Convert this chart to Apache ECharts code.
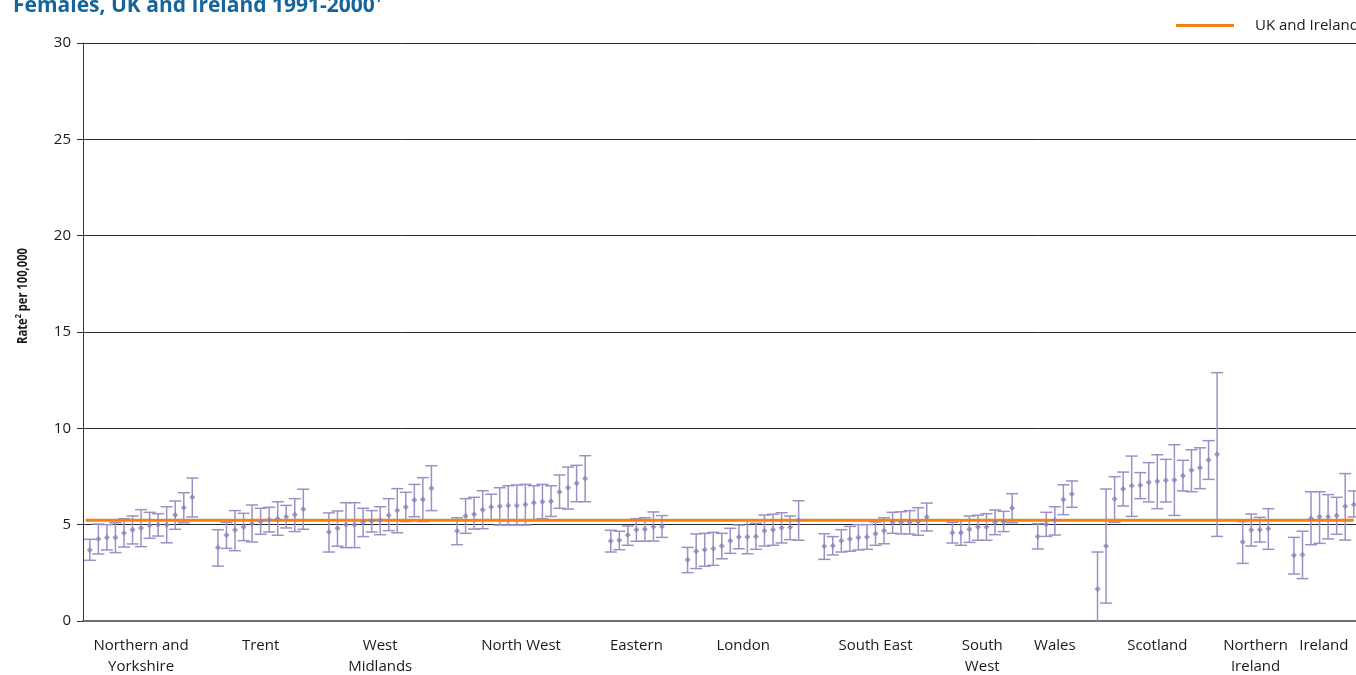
<!DOCTYPE html>
<html>
<head>
<meta charset="utf-8">
<script src="https://cdn.jsdelivr.net/npm/echarts@6/dist/echarts.min.js"></script>
<style>
  html, body { margin: 0; padding: 0; background: #ffffff; }
  #chart { width: 1356px; height: 675px; }
</style>
</head>
<body>
<div id="chart"></div>
<script>
// Cancer registry regions, in plotting order
const REGIONS = [
  'Northern and\nYorkshire', 'Trent', 'West\nMidlands', 'North West', 'Eastern', 'London',
  'South East', 'South\nWest', 'Wales', 'Scotland', 'Northern\nIreland', 'Ireland'
];

// Age-standardised rate per 100,000 for each area within a region
const RATE = [
  [3.69, 4.26, 4.33, 4.33, 4.57, 4.74, 4.83, 4.97, 5.00, 5.00, 5.50, 5.88, 6.42],
  [3.81, 4.46, 4.72, 4.88, 5.05, 5.17, 5.26, 5.31, 5.41, 5.52, 5.80],
  [4.62, 4.81, 5.00, 5.00, 5.14, 5.19, 5.23, 5.49, 5.73, 5.92, 6.28, 6.30, 6.89],
  [4.67, 5.45, 5.54, 5.78, 5.92, 5.95, 6.00, 6.00, 6.05, 6.14, 6.19, 6.21, 6.70, 6.92, 7.15, 7.39],
  [4.15, 4.19, 4.46, 4.74, 4.76, 4.89, 4.91],
  [3.18, 3.62, 3.70, 3.75, 3.89, 4.17, 4.36, 4.36, 4.39, 4.69, 4.74, 4.84, 4.86, 5.23],
  [3.88, 3.91, 4.17, 4.26, 4.34, 4.36, 4.53, 4.69, 5.12, 5.12, 5.12, 5.17, 5.40],
  [4.58, 4.58, 4.76, 4.88, 4.88, 5.14, 5.15, 5.86],
  [4.39, 5.02, 5.23, 6.30, 6.59],
  [1.66, 3.89, 6.33, 6.85, 7.02, 7.04, 7.20, 7.25, 7.30, 7.32, 7.54, 7.82, 7.96, 8.36, 8.65],
  [4.10, 4.72, 4.74, 4.79],
  [3.41, 3.44, 5.33, 5.41, 5.41, 5.47, 5.95, 6.05]
];

// Lower 95% confidence limits
const LOWER = [
  [3.15, 3.48, 3.69, 3.55, 3.84, 4.00, 3.86, 4.29, 4.41, 4.06, 4.76, 5.10, 5.40],
  [2.85, 3.77, 3.65, 4.17, 4.10, 4.50, 4.62, 4.45, 4.83, 4.64, 4.76],
  [3.58, 3.88, 3.81, 3.81, 4.38, 4.62, 4.48, 4.69, 4.58, 5.16, 5.41, 5.16, 5.73],
  [3.96, 4.55, 4.77, 4.79, 5.23, 4.98, 4.98, 4.98, 4.98, 5.24, 5.31, 5.43, 5.85, 5.81, 6.19, 6.19],
  [3.58, 3.70, 3.93, 4.14, 4.14, 4.15, 4.34],
  [2.51, 2.72, 2.84, 2.89, 3.23, 3.51, 3.75, 3.49, 3.72, 3.89, 3.93, 4.05, 4.22, 4.19],
  [3.20, 3.43, 3.58, 3.62, 3.69, 3.72, 3.93, 4.01, 4.55, 4.52, 4.52, 4.45, 4.67],
  [4.05, 3.93, 4.08, 4.19, 4.19, 4.48, 4.64, 5.10],
  [3.74, 4.39, 4.46, 5.52, 5.90],
  [-0.30, 0.93, 5.12, 5.97, 5.43, 6.35, 6.18, 5.83, 6.18, 5.48, 6.75, 6.71, 6.87, 7.35, 4.39],
  [2.99, 3.89, 4.10, 3.72],
  [2.44, 2.20, 3.96, 4.03, 4.26, 4.50, 4.20, 5.40]
];

// Upper 95% confidence limits
const UPPER = [
  [4.24, 5.03, 5.00, 5.10, 5.31, 5.45, 5.78, 5.64, 5.57, 5.93, 6.23, 6.66, 7.42],
  [4.74, 5.12, 5.73, 5.59, 6.02, 5.85, 5.90, 6.19, 6.00, 6.35, 6.84],
  [5.61, 5.71, 6.14, 6.14, 5.85, 5.73, 5.93, 6.35, 6.87, 6.68, 7.09, 7.44, 8.06],
  [5.36, 6.35, 6.42, 6.76, 6.58, 6.92, 7.02, 7.06, 7.09, 7.02, 7.09, 7.02, 7.58, 7.99, 8.08, 8.58],
  [4.71, 4.66, 4.93, 5.31, 5.36, 5.66, 5.47],
  [3.82, 4.52, 4.55, 4.60, 4.55, 4.81, 4.98, 5.23, 5.07, 5.50, 5.54, 5.62, 5.45, 6.24],
  [4.53, 4.38, 4.74, 4.91, 5.00, 5.00, 5.14, 5.36, 5.64, 5.67, 5.73, 5.88, 6.12],
  [5.12, 5.24, 5.45, 5.49, 5.57, 5.76, 5.69, 6.61],
  [5.05, 5.64, 5.93, 7.07, 7.27],
  [3.58, 6.85, 7.49, 7.73, 8.56, 7.70, 8.22, 8.63, 8.39, 9.15, 8.34, 8.89, 8.99, 9.36, 12.89],
  [5.16, 5.55, 5.38, 5.83],
  [4.34, 4.66, 6.71, 6.71, 6.56, 6.42, 7.65, 6.75]
];

// Overall rate for UK and Ireland
const UK_IRELAND_RATE = 5.23;

// Y axis scale
const Y_MIN = 0;
const Y_MAX = 30;
const Y_STEP = 5;

// ---- build slot positions: one slot per area, two empty slots between regions ----
const GAP_SLOTS = 2;
const points = [];
const bars = [];
const groupLabels = {};
const groupCentres = [];
let slot = 0;
REGIONS.forEach((name, g) => {
  const start = slot;
  RATE[g].forEach((r, i) => {
    points.push([slot, r]);
    bars.push([slot, LOWER[g][i], UPPER[g][i]]);
    slot++;
  });
  const centre = (start + slot - 1) / 2;
  groupCentres.push(centre);
  groupLabels[centre.toFixed(2)] = name;
  slot += GAP_SLOTS;
});
const lastSlot = slot - GAP_SLOTS - 1;

const PURPLE = '#9c90c5';
const ORANGE = '#ef8414';
const TITLE_BLUE = '#15649a';
const FONT = '"Open Sans", "Noto Sans", sans-serif';

const chart = echarts.init(document.getElementById('chart'), null, { renderer: 'canvas' });

chart.setOption({
  animation: false,
  backgroundColor: '#ffffff',
  textStyle: { fontFamily: FONT },
  title: {
    left: 8,
    top: -12,
    text: '{t|Females, UK and Ireland 1991-2000}{s|1}',
    textStyle: {
      rich: {
        t: { fontFamily: FONT, fontSize: 21, fontWeight: 'bold', color: TITLE_BLUE, lineHeight: 26 },
        s: { fontFamily: FONT, fontSize: 12, fontWeight: 'bold', color: TITLE_BLUE, verticalAlign: 'top', lineHeight: 26 }
      }
    }
  },
  legend: {
    left: 1171,
    top: 13,
    icon: 'rect',
    itemWidth: 58,
    itemHeight: 3,
    data: ['UK and Ireland'],
    textStyle: { fontFamily: FONT, fontSize: 15, color: '#1a1a1a', padding: [0, 0, 0, 16] }
  },
  // Y axis title, set in a condensed bold face
  graphic: [{
    type: 'text',
    x: 23,
    y: 296,
    rotation: Math.PI / 2,
    scaleX: 0.8,
    style: {
      text: '{b|Rate}{s|2}{b| per 100,000}',
      align: 'center',
      verticalAlign: 'middle',
      rich: {
        b: { fontFamily: FONT, fontSize: 14, fontWeight: 'bold', fill: '#1a1a1a', lineHeight: 18 },
        s: { fontFamily: FONT, fontSize: 9, fontWeight: 'bold', fill: '#1a1a1a', verticalAlign: 'top', lineHeight: 18 }
      }
    }
  }],
  grid: { left: 83, right: -2, top: 43, bottom: 54, containLabel: false, outerBoundsMode: 'none' },
  xAxis: {
    type: 'value',
    min: -0.8,
    max: lastSlot + 0.5,
    splitLine: { show: false },
    axisTick: { show: false },
    axisLine: { show: true, onZero: false, lineStyle: { color: '#6e6e6e', width: 2 } },
    axisLabel: {
      customValues: groupCentres,
      formatter: (v) => groupLabels[Number(v).toFixed(2)] || '',
      fontFamily: FONT,
      fontSize: 15,
      color: '#1a1a1a',
      lineHeight: 21,
      margin: 14
    }
  },
  yAxis: {
    type: 'value',
    min: Y_MIN,
    max: Y_MAX,
    interval: Y_STEP,
    axisLine: { show: true, onZero: false, lineStyle: { color: '#333333', width: 1 } },
    axisTick: { show: true, inside: false, length: 6, lineStyle: { color: '#333333' } },
    axisLabel: { fontFamily: FONT, fontSize: 15, color: '#1a1a1a', margin: 12 },
    splitLine: { show: true, lineStyle: { color: '#2a2a2a', width: 1 } }
  },
  series: [
    {
      name: 'Confidence interval',
      type: 'custom',
      clip: true,
      z: 3,
      data: bars,
      encode: { x: 0, y: [1, 2] },
      renderItem: (params, api) => {
        const x = api.value(0);
        const lo = api.coord([x, api.value(1)]);
        const hi = api.coord([x, api.value(2)]);
        const half = 6;
        const style = { stroke: PURPLE, lineWidth: 1.5, fill: null };
        return {
          type: 'group',
          children: [
            { type: 'line', shape: { x1: lo[0], y1: lo[1], x2: hi[0], y2: hi[1] }, style },
            { type: 'line', shape: { x1: hi[0] - half, y1: hi[1], x2: hi[0] + half, y2: hi[1] }, style },
            { type: 'line', shape: { x1: lo[0] - half, y1: lo[1], x2: lo[0] + half, y2: lo[1] }, style }
          ]
        };
      }
    },
    {
      name: 'UK and Ireland',
      type: 'line',
      z: 4,
      symbol: 'none',
      color: ORANGE,
      lineStyle: { color: ORANGE, width: 3 },
      data: [[-0.5, UK_IRELAND_RATE], [lastSlot, UK_IRELAND_RATE]]
    },
    {
      name: 'Rate',
      type: 'scatter',
      z: 5,
      symbol: 'diamond',
      symbolSize: 6,
      itemStyle: { color: '#8d80bb' },
      data: points
    }
  ]
});
</script>
</body>
</html>
